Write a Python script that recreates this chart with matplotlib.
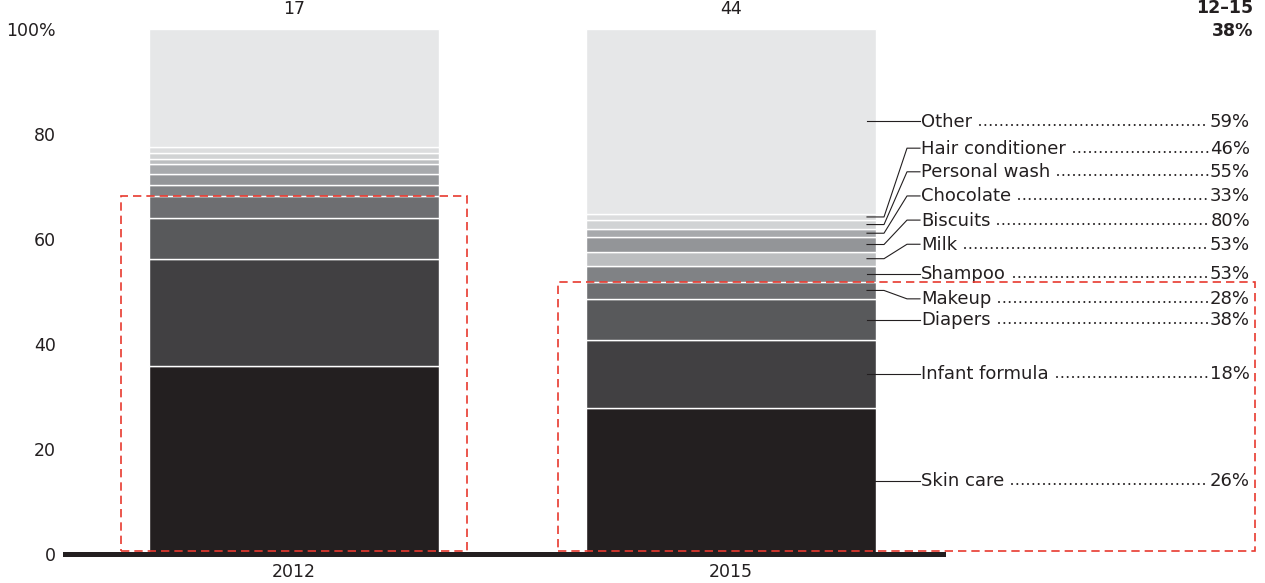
import matplotlib
matplotlib.use("Agg")
import matplotlib.pyplot as plt
from matplotlib.patches import Rectangle

plt.rcParams['font.family'] = ['DejaVu Sans']

years = ["2012", "2015"]
totals = ["17", "44"]
categories = ["Skin care", "Infant formula", "Diapers", "Makeup", "Shampoo", "Milk",
              "Biscuits", "Chocolate", "Personal wash", "Hair conditioner", "Other"]
share_2012 = [35.8, 20.4, 7.8, 4.2, 2.1, 2.0, 1.9, 1.1, 1.1, 1.1, 22.5]
share_2015 = [27.9, 12.9, 7.7, 3.4, 3.0, 2.7, 2.7, 1.6, 1.7, 1.2, 35.2]
growth = ["26%", "18%", "38%", "28%", "53%", "53%", "80%", "33%", "55%", "46%", "59%"]
cagr_label = "12\u201315"
cagr_total = "38%"

colors_2012 = ["#231f20", "#414042", "#58595b", "#6d6e71", "#808285", "#939598",
               "#a7a9ac", "#bcbec0", "#d1d3d4", "#dcddde", "#e6e7e8"]
colors_2015 = ["#231f20", "#414042", "#58595b", "#6d6e71", "#808285", "#bcbec0",
               "#939598", "#a7a9ac", "#d1d3d4", "#dcddde", "#e6e7e8"]

# layout of the label column (data y of each label)
label_y = [13.9, 34.5, 43.8, 48.6, 54.3, 59.0, 63.6, 68.2, 72.8, 77.3, 81.9]
n_core = 4  # skin care .. makeup sit in the red boxes

W, H = 1265, 583
fs = 12.5
ink = "#231f20"
fig = plt.figure(figsize=(W / 100, H / 100), dpi=100)
ax = fig.add_axes([63 / W, 1 - 554 / H, (945 - 63) / W, 525 / H])
ax.set_xlim(-0.5286, 1.4897)
ax.set_ylim(0, 100)
for s in ax.spines.values():
    s.set_visible(False)
ax.set_xticks([])
ax.set_yticks([0, 20, 40, 60, 80, 100])
ax.set_yticklabels(["0", "20", "40", "60", "80", "100%"], fontsize=fs, color=ink)
ax.tick_params(axis="y", length=0, pad=5)

width = 0.6636
red = "#e8392f"
for i, (vals, cols) in enumerate([(share_2012, colors_2012), (share_2015, colors_2015)]):
    bottom = 0
    for v, c in zip(vals, cols):
        ax.bar(i, v, width, bottom=bottom, color=c, edgecolor="white", linewidth=1, zorder=2)
        bottom += v
    ax.text(i, 102, totals[i], ha="center", va="bottom", fontsize=fs, color=ink)
    ax.text(i, -1.8, years[i], ha="center", va="top", fontsize=fs, color=ink)
    core_top = sum(vals[:n_core])
    x0 = i - 0.395
    x1 = i + 0.395 if i == 0 else 2.199
    ax.add_patch(Rectangle((x0, 0.5), x1 - x0, core_top - 0.5, fill=False,
                           edgecolor=red, linestyle=(0, (5, 3)), linewidth=1.2,
                           zorder=4, clip_on=False))

ax.axhline(0, xmin=0.002, xmax=0.998, color=ink, linewidth=3.6, zorder=3, clip_on=False)

# labels for 2015
x_tick0 = 1 + (867 - 731) / 437
x_elbow0 = 1 + (884 - 731) / 437
x_elbow1 = 1 + (907 - 731) / 437
x_text = 1 + (920 - 731) / 437
x_pct = 1 + (1250 - 731) / 437

bottoms = [sum(share_2015[:k]) for k in range(len(share_2015))]
fig.canvas.draw()
r = fig.canvas.get_renderer()
inv = ax.transData.inverted()
for k, cat in enumerate(categories):
    mid = bottoms[k] + share_2015[k] / 2
    ly = label_y[k]
    if abs(mid - ly) < 1.5:
        xs, ys = [x_tick0, x_text], [mid, mid]
        ly = mid
    else:
        xs = [x_tick0, x_elbow0, x_elbow1, x_text]
        ys = [mid, mid, ly, ly]
    ax.plot(xs, ys, color=ink, linewidth=0.8, zorder=5, clip_on=False)
    ty = ly + 0.3
    t1 = ax.text(x_text + 0.002, ty, cat, ha="left", va="center_baseline",
                 fontsize=fs + 0.5, color=ink, clip_on=False)
    t2 = ax.text(x_pct, ty, growth[k], ha="right", va="center_baseline",
                 fontsize=fs + 0.5, color=ink, clip_on=False)
    b1 = t1.get_window_extent(r)
    b2 = t2.get_window_extent(r)
    # dotted leader between name and value, sitting on the text baseline
    _, y_c = ax.transData.transform((0, ty))
    y_dot = y_c - 5.0
    p0 = inv.transform((b1.x1 + 8, y_dot))
    p1 = inv.transform((b2.x0 - 2, y_dot))
    ax.plot([p0[0], p1[0]], [p0[1], p1[1]], color=ink, linewidth=1.5,
            linestyle=(0, (0.01, 2.55)), dash_capstyle="round", zorder=5, clip_on=False)

fig.text(1253 / W, 1 - 8 / H, cagr_label, ha="right", va="center", fontsize=fs,
         fontweight="bold", color=ink)
fig.text(1253 / W, 1 - 31 / H, cagr_total, ha="right", va="center", fontsize=fs,
         fontweight="bold", color=ink)

fig.savefig("out.png", dpi=100)
